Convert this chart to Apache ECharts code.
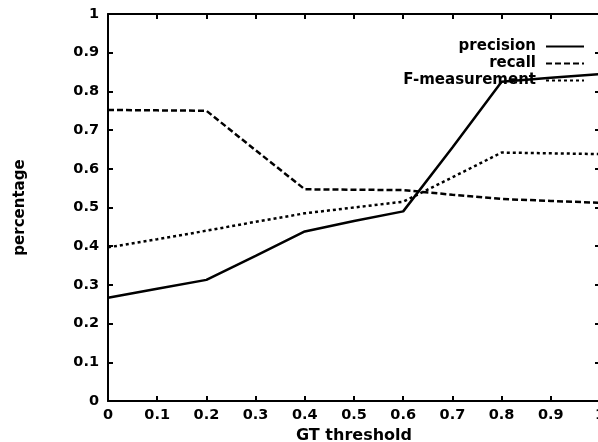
<!DOCTYPE html>
<html>
<head>
<meta charset="utf-8">
<script src="https://cdn.jsdelivr.net/npm/echarts@6/dist/echarts.min.js"></script>
<style>
  html, body { margin: 0; padding: 0; background: #fff; }
  #main { width: 598px; height: 442px; }
</style>
</head>
<body>
<div id="main"></div>
<script>
var thresholds = [0, 0.1, 0.2, 0.3, 0.4, 0.5, 0.6, 0.7, 0.8, 0.9, 1];
var precision = [0.267, 0.29, 0.313, 0.375, 0.438, 0.465, 0.49, 0.655, 0.825, 0.835, 0.845];
var recall = [0.752, 0.751, 0.75, 0.648, 0.547, 0.546, 0.545, 0.533, 0.522, 0.517, 0.512];
var fmeasure = [0.397, 0.418, 0.44, 0.463, 0.485, 0.5, 0.515, 0.578, 0.642, 0.64, 0.638];

function pairs(ys) {
  return thresholds.map(function (x, i) { return [x, ys[i]]; });
}

var font = 'DejaVu Sans';
var labelStyle = { color: '#000', fontFamily: font, fontWeight: 'bold', fontSize: 14.5 };
var tickLine = { onZero: false, lineStyle: { color: '#000', width: 2 } };
var ticks = { inside: true, length: 5, lineStyle: { color: '#000', width: 2 } };

var chart = echarts.init(document.getElementById('main'));
var option = {
  animation: false,
  backgroundColor: '#fff',
  grid: { left: 108, top: 14, width: 492, height: 387, outerBoundsMode: 'none', containLabel: false },
  legend: {
    right: 8,
    top: 34,
    orient: 'vertical',
    align: 'right',
    itemWidth: 38,
    itemHeight: 10,
    itemGap: 2,
    itemStyle: { opacity: 0 },
    textStyle: { color: '#000', fontFamily: font, fontWeight: 'bold', fontSize: 15, padding: [0, 5, 0, 0] },
    data: ['precision', 'recall', 'F-measurement']
  },
  xAxis: [
    {
      type: 'value', min: 0, max: 1, interval: 0.1,
      name: 'GT threshold', nameLocation: 'middle', nameGap: 20,
      nameTextStyle: Object.assign({}, labelStyle, { fontSize: 16 }),
      axisLine: tickLine,
      axisTick: ticks,
      axisLabel: Object.assign({ margin: 7, showMaxLabel: true }, labelStyle),
      splitLine: { show: false }
    },
    {
      type: 'value', min: 0, max: 1, interval: 0.1, position: 'top',
      axisLine: tickLine,
      axisTick: ticks,
      axisLabel: { show: false },
      splitLine: { show: false }
    }
  ],
  yAxis: [
    {
      type: 'value', min: 0, max: 1, interval: 0.1,
      name: 'percentage', nameLocation: 'middle', nameGap: 80, nameRotate: 90,
      nameTextStyle: Object.assign({}, labelStyle, { fontSize: 15 }),
      axisLine: tickLine,
      axisTick: ticks,
      axisLabel: Object.assign({ margin: 9, formatter: function (v) { return String(+v.toFixed(1)); } }, labelStyle),
      splitLine: { show: false }
    },
    {
      type: 'value', min: 0, max: 1, interval: 0.1, position: 'right',
      axisLine: tickLine,
      axisTick: ticks,
      axisLabel: { show: false },
      splitLine: { show: false }
    }
  ],
  series: [
    {
      name: 'precision', type: 'line', data: pairs(precision),
      showSymbol: false, symbol: 'none', color: '#000',
      lineStyle: { color: '#000', width: 2.5, type: 'solid' }
    },
    {
      name: 'recall', type: 'line', data: pairs(recall),
      showSymbol: false, symbol: 'none', color: '#000',
      lineStyle: { color: '#000', width: 2.5, type: [6, 3] }
    },
    {
      name: 'F-measurement', type: 'line', data: pairs(fmeasure),
      showSymbol: false, symbol: 'none', color: '#000',
      lineStyle: { color: '#000', width: 2.5, type: [3, 3] }
    }
  ]
};
chart.setOption(option);
</script>
</body>
</html>
